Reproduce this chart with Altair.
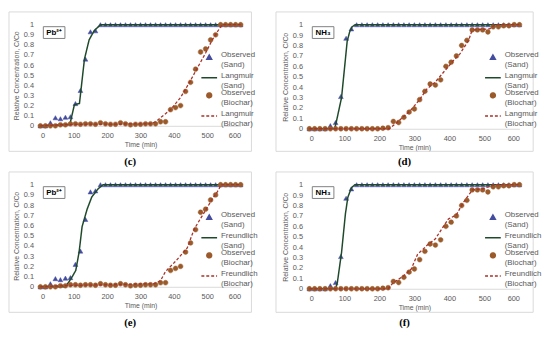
import altair as alt
import pandas as pd

# ---------------- data ----------------
TIME = [0, 15, 30, 45, 60, 75, 90, 105, 120, 135, 150, 165, 180, 195, 210, 225, 240,
        255, 270, 285, 300, 315, 330, 345, 360, 375, 390, 405, 420, 435, 450, 465,
        480, 495, 510, 525, 540, 555, 570, 585, 600]

PB_SAND_OBS = [0, 0, 0.03, 0.08, 0.07, 0.085, 0.09, 0.22, 0.35, 0.66, 0.93, 0.94,
               1, 1, 1, 1, 1, 1, 1, 1, 1, 1, 1, 1, 1, 1, 1, 1, 1, 1, 1, 1, 1, 1, 1, 1, 1, 1, 1, 1, 1]
PB_BIO_OBS = [0, 0, 0, 0, 0.01, 0.01, 0.02, 0.02, 0.015, 0.02, 0.02, 0.015, 0.03, 0.02,
              0.015, 0.015, 0.03, 0.02, 0.01, 0.015, 0.015, 0.02, 0.02, 0.02, 0.04, 0.04,
              0.16, 0.18, 0.20, 0.34, 0.43, 0.56, 0.73, 0.76, 0.85, 0.90, 1.0, 1, 1, 1, 1]
NH3_SAND_OBS = [0, 0, 0, 0, 0.03, 0.06, 0.31, 0.87, 0.96,
                1, 1, 1, 1, 1, 1, 1, 1, 1, 1, 1, 1, 1, 1, 1, 1, 1, 1, 1, 1, 1, 1, 1, 1, 1, 1, 1, 1, 1, 1, 1, 1]
NH3_BIO_OBS = [0, 0, 0, 0, 0, 0, 0, 0, 0, 0, 0, 0, 0, 0, 0.005, 0.01,
               0.07, 0.06, 0.11, 0.16, 0.19, 0.28, 0.36, 0.43, 0.42, 0.47, 0.60, 0.64, 0.70,
               0.80, 0.85, 0.95, 0.95, 0.95, 0.93, 0.98, 0.98, 0.99, 0.99, 1.0, 1.0]

# model curves (time, value)
PB_LANG_SAND_T = [0, 88, 102, 117, 132, 146, 161, 180, 600]
PB_LANG_SAND_V = [0, 0.01, 0.21, 0.22, 0.66, 0.85, 0.94, 1.0, 1.0]
PB_LANG_BIO_T = [0, 60, 120, 330, 345, 390, 420, 445, 470, 495, 515, 530, 545, 600]
PB_LANG_BIO_V = [0, 0.01, 0.015, 0.02, 0.04, 0.16, 0.28, 0.42, 0.57, 0.72, 0.85, 0.93, 1.0, 1.0]

PB_FREU_SAND_T = [0, 75, 92, 106, 116, 125, 140, 154, 173, 188, 600]
PB_FREU_SAND_V = [0, 0, 0.08, 0.16, 0.34, 0.59, 0.76, 0.88, 0.96, 1.0, 1.0]
PB_FREU_BIO_T = [0, 60, 120, 340, 360, 375, 405, 440, 460, 480, 495, 515, 530, 542, 600]
PB_FREU_BIO_V = [0, 0.01, 0.015, 0.03, 0.06, 0.15, 0.25, 0.38, 0.56, 0.67, 0.75, 0.86, 0.93, 1.0, 1.0]

NH3_LANG_SAND_T = [0, 72, 76, 92, 103, 108, 115, 122, 131, 600]
NH3_LANG_SAND_V = [0, 0, 0.05, 0.30, 0.67, 0.84, 0.93, 0.98, 1.0, 1.0]
NH3_LANG_BIO_T = [0, 228, 250, 270, 290, 315, 335, 360, 385, 410, 430, 455, 463, 470, 515, 530, 600]
NH3_LANG_BIO_V = [0, 0, 0.06, 0.12, 0.18, 0.28, 0.38, 0.45, 0.55, 0.65, 0.72, 0.85, 0.93, 0.95, 0.96, 1.0, 1.0]

NH3_FREU_SAND_T = [0, 75, 80, 92, 103, 110, 120, 130, 600]
NH3_FREU_SAND_V = [0, 0, 0.06, 0.35, 0.72, 0.88, 0.97, 1.0, 1.0]
NH3_FREU_BIO_T = [0, 225, 240, 268, 291, 309, 337, 360, 383, 397, 420, 438, 457, 466, 494, 512, 530, 600]
NH3_FREU_BIO_V = [0, 0, 0.06, 0.12, 0.19, 0.33, 0.42, 0.48, 0.60, 0.67, 0.71, 0.82, 0.91, 0.95, 0.96, 0.98, 1.0, 1.0]

X_TICKS = [0, 100, 200, 300, 400, 500, 600]
Y_TICKS = [0, 0.1, 0.2, 0.3, 0.4, 0.5, 0.6, 0.7, 0.8, 0.9, 1.0]

# ---------------- style ----------------
COLORS = ["#434C9E", "#1E4A2A", "#9A5A2A", "#A8322A"]
SHAPES = ["triangle-up", "stroke", "circle", "stroke"]
DASHES = [[1, 0], [1, 0], [1, 0], [3, 2]]
SIZES = [24, 256, 24, 256]
FONT = "Liberation Sans"
TXT = "#595959"


def make_panel(ion, model, sand_obs, st, sv, bio_obs, bt, bv, label, w, h, frame, label_y, leg_dx):
    names = ["Observed|(Sand)", model + "|(Sand)", "Observed|(Biochar)", model + "|(Biochar)"]
    rows = []
    for t, v in zip(TIME, sand_obs):
        rows.append({"t": t, "v": v, "s": names[0]})
    for t, v in zip(st, sv):
        rows.append({"t": t, "v": v, "s": names[1]})
    for t, v in zip(TIME, bio_obs):
        rows.append({"t": t, "v": v, "s": names[2]})
    for t, v in zip(bt, bv):
        rows.append({"t": t, "v": v, "s": names[3]})
    df = pd.DataFrame(rows)

    leg = alt.Legend(
        title=None, orient="none", legendX=w - leg_dx, legendY=29,
        labelExpr="split(datum.label, '|')", labelFont=FONT, labelFontSize=8,
        labelColor=TXT, labelBaseline="alphabetic", labelOffset=3, labelLimit=120,
        symbolStrokeWidth=1.5, rowPadding=0, padding=0,
    )
    fill = alt.Fill("s:N", scale=alt.Scale(domain=names, range=COLORS), legend=leg)
    stroke = alt.Stroke("s:N", scale=alt.Scale(domain=names, range=COLORS), legend=leg)
    shape = alt.Shape("s:N", scale=alt.Scale(domain=names, range=SHAPES), legend=leg)
    dash = alt.StrokeDash("s:N", scale=alt.Scale(domain=names, range=DASHES), legend=leg)
    size = alt.Size("s:N", scale=alt.Scale(type="ordinal", domain=names, range=SIZES), legend=leg)

    x = alt.X("t:Q", scale=alt.Scale(domain=[0, 600], nice=False),
              axis=alt.Axis(values=X_TICKS, title="Time (min)", labelPadding=6,
                            titlePadding=2, domain=True, domainColor="#D9D9D9"))
    y = alt.Y("v:Q", scale=alt.Scale(domain=[0, 1], nice=False),
              axis=alt.Axis(values=Y_TICKS, format=".1~f", title="Relative Concentration, C/Co",
                            labelPadding=7, titlePadding=4, domain=False))

    base = alt.Chart(df)
    pts_sand = base.transform_filter(alt.datum.s == names[0]).mark_point(
        filled=True, opacity=1, strokeWidth=0.5).encode(
        x=x, y=y, fill=fill, stroke=stroke, shape=shape, size=size, strokeDash=dash)
    line_sand = base.transform_filter(alt.datum.s == names[1]).mark_line(
        strokeWidth=1.5).encode(x=x, y=y, stroke=stroke, strokeDash=dash)
    pts_bio = base.transform_filter(alt.datum.s == names[2]).mark_point(
        filled=True, opacity=1, strokeWidth=0.5).encode(
        x=x, y=y, fill=fill, stroke=stroke, shape=shape, size=size, strokeDash=dash)
    line_bio = base.transform_filter(alt.datum.s == names[3]).mark_line(
        strokeWidth=1.3).encode(x=x, y=y, stroke=stroke, strokeDash=dash)

    one = alt.Data(values=[{"k": 1}])
    fx0, fx1, fy0, fy1 = frame
    frame_rect = alt.Chart(one).mark_rect(fill="transparent", stroke="#D9D9D9", strokeWidth=1).encode(
        x=alt.value(fx0), x2=alt.value(fx1), y=alt.value(fy0), y2=alt.value(fy1))
    ion_box = alt.Chart(one).mark_rect(fill="white", stroke="#7F7F7F", strokeWidth=1).encode(
        x=alt.value(3), x2=alt.value(25), y=alt.value(2), y2=alt.value(14))
    ion_txt = alt.Chart(one).mark_text(text=ion, font=FONT, fontSize=8, fontWeight="bold",
                                       color="#000000", align="center", baseline="middle").encode(
        x=alt.value(14), y=alt.value(8.5))
    lab = alt.Chart(one).mark_text(text=label, font="Liberation Serif", fontSize=11,
                                   fontWeight="bold", color="#000000", align="center",
                                   baseline="middle").encode(
        x=alt.value((fx0 + fx1) / 2), y=alt.value(label_y))

    return alt.layer(frame_rect, pts_sand, line_sand, pts_bio, line_bio, ion_box, ion_txt, lab).properties(
        width=w, height=h)


pc = make_panel("Pb²⁺", "Langmuir", PB_SAND_OBS, PB_LANG_SAND_T, PB_LANG_SAND_V,
                PB_BIO_OBS, PB_LANG_BIO_T, PB_LANG_BIO_V, "(c)", 204, 103, (-32, 215, -13, 129), 140, 41)
pd_ = make_panel("NH₃", "Langmuir", NH3_SAND_OBS, NH3_LANG_SAND_T, NH3_LANG_SAND_V,
                 NH3_BIO_OBS, NH3_LANG_BIO_T, NH3_LANG_BIO_V, "(d)", 214, 106, (-34, 228, -13, 129), 140, 36)
pe = make_panel("Pb²⁺", "Freundlich", PB_SAND_OBS, PB_FREU_SAND_T, PB_FREU_SAND_V,
                PB_BIO_OBS, PB_FREU_BIO_T, PB_FREU_BIO_V, "(e)", 204, 104, (-32, 215, -13, 130), 141, 41)
pf = make_panel("NH₃", "Freundlich", NH3_SAND_OBS, NH3_FREU_SAND_T, NH3_FREU_SAND_V,
                NH3_BIO_OBS, NH3_FREU_BIO_T, NH3_FREU_BIO_V, "(f)", 214, 106, (-34, 228, -13, 130), 141, 36)

chart = alt.concat(pc, pd_, pe, pf, columns=2, spacing={"row": 57, "column": 70}, bounds="flush").resolve_scale(
    fill="independent", stroke="independent", shape="independent", strokeDash="independent",
    size="independent").resolve_legend(
    fill="independent", stroke="independent", shape="independent", strokeDash="independent",
    size="independent").properties(padding=0).configure_view(strokeWidth=0).configure_axis(
    labelFont=FONT, labelFontSize=7.5, labelColor=TXT, titleFont=FONT, titleFontSize=7,
    titleFontWeight="normal", titleColor=TXT, ticks=False, grid=False)

chart.save("out.html", embed_options={"renderer": "svg", "actions": False})
